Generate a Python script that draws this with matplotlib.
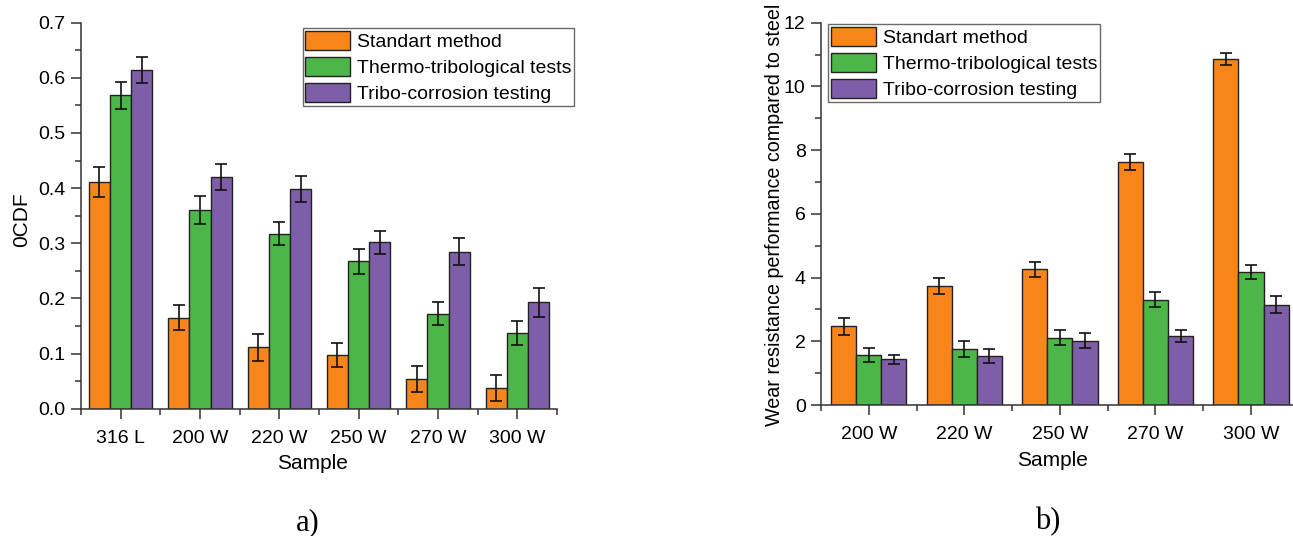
import numpy as np
import matplotlib.pyplot as plt
from matplotlib.patches import Patch
from matplotlib.ticker import MultipleLocator, FixedLocator

plt.rcParams['font.family'] = ['Liberation Sans', 'DejaVu Sans']

# panel a) data
samples_a = ["316 L", "200 W", "220 W", "250 W", "270 W", "300 W"]
std_a = [0.411, 0.165, 0.111, 0.097, 0.054, 0.038]
std_a_err = [0.027, 0.023, 0.025, 0.022, 0.024, 0.024]
thermo_a = [0.568, 0.360, 0.317, 0.267, 0.172, 0.137]
thermo_a_err = [0.024, 0.025, 0.021, 0.023, 0.021, 0.022]
tribo_a = [0.614, 0.420, 0.398, 0.302, 0.285, 0.193]
tribo_a_err = [0.023, 0.024, 0.024, 0.021, 0.025, 0.026]

# panel b) data
samples_b = ["200 W", "220 W", "250 W", "270 W", "300 W"]
std_b = [2.47, 3.74, 4.26, 7.63, 10.86]
std_b_err = [0.27, 0.26, 0.23, 0.26, 0.19]
thermo_b = [1.57, 1.77, 2.11, 3.31, 4.17]
thermo_b_err = [0.21, 0.25, 0.23, 0.24, 0.21]
tribo_b = [1.44, 1.54, 2.02, 2.16, 3.15]
tribo_b_err = [0.14, 0.23, 0.24, 0.18, 0.26]

labels = ["Standart method", "Thermo-tribological tests", "Tribo-corrosion testing"]
colors = ["#F7851A", "#4CB648", "#7E5EA8"]
edge = "#222222"
W, H = 1293, 536


def draw_panel(ax, cats, series, errs, width):
    x = np.arange(len(cats))
    for i, (vals, err) in enumerate(zip(series, errs)):
        ax.bar(x + (i - 1) * width, vals, width, color=colors[i], edgecolor=edge,
               linewidth=1.0, yerr=err, capsize=4,
               error_kw=dict(ecolor="#111111", elinewidth=1.2, capthick=1.2), zorder=2)
    ax.spines['top'].set_visible(False)
    ax.spines['right'].set_visible(False)
    for s in ('left', 'bottom'):
        ax.spines[s].set_linewidth(1.1)
        ax.spines[s].set_color('#333333')
    ax.set_xticks(x)
    ax.set_xticklabels(cats, fontsize=14)
    ax.xaxis.set_minor_locator(FixedLocator(np.arange(len(cats) + 1) - 0.5))
    ax.tick_params(axis='both', which='major', direction='out', length=7, width=1.1,
                   color='#333333', labelsize=14)
    ax.tick_params(axis='both', which='minor', direction='out', length=4, width=1.1,
                   color='#333333')
    ax.tick_params(axis='x', which='major', pad=8)
    ax.tick_params(axis='y', which='major', pad=4)
    ax.set_xlabel("Sample", fontsize=15, va='center')


def add_legend(fig, x0, y0):
    handles = [Patch(facecolor=c, edgecolor=edge, linewidth=1.0) for c in colors]
    leg = fig.legend(handles, labels, loc='upper left',
                     bbox_to_anchor=(x0 / W, 1 - y0 / H), bbox_transform=fig.transFigure,
                     borderaxespad=0, fontsize=14, frameon=True, fancybox=False,
                     handlelength=2.3, handleheight=1.15, handletextpad=0.35,
                     labelspacing=0.3, borderpad=0.15)
    leg.get_frame().set_edgecolor('#444444')
    leg.get_frame().set_linewidth(1.0)


fig = plt.figure(figsize=(W / 100, H / 100), dpi=100)

# panel a
ax1 = fig.add_axes([81 / W, 1 - 408.7 / H, (557 - 81) / W, (408.7 - 22.7) / H])
draw_panel(ax1, samples_a, [std_a, thermo_a, tribo_a],
           [std_a_err, thermo_a_err, tribo_a_err], 0.267)
ax1.set_xlim(-0.5, 5.5)
ax1.set_ylim(0, 0.7)
ax1.yaxis.set_major_locator(MultipleLocator(0.1))
ax1.yaxis.set_minor_locator(MultipleLocator(0.05))
ax1.yaxis.set_major_formatter(plt.FormatStrFormatter('%.1f'))
ax1.set_ylabel("0CDF", fontsize=15, va='center')
ax1.yaxis.set_label_coords(-0.125, 0.49)
ax1.xaxis.set_label_coords(0.486, -0.141)

# panel b
ax2 = fig.add_axes([821 / W, 1 - 405 / H, (W - 821) / W, (405 - 22.7) / H])
draw_panel(ax2, samples_b, [std_b, thermo_b, tribo_b],
           [std_b_err, thermo_b_err, tribo_b_err], 0.263)
ax2.set_xlim(-0.5, 4.44)
ax2.set_ylim(0, 12)
ax2.yaxis.set_major_locator(MultipleLocator(2))
ax2.yaxis.set_minor_locator(MultipleLocator(1))
ax2.set_ylabel("Wear resistance performance compared to steel", fontsize=14.2, va='center')
ax2.yaxis.set_label_coords(-0.0975, 0.497)
ax2.xaxis.set_label_coords(0.490, -0.144)

add_legend(fig, 302.5, 28)
add_legend(fig, 828.5, 24)

fig.text(308 / W, 1 - 523 / H, "a)", fontsize=22, family='Liberation Serif',
         ha='center', va='center')
fig.text(1048 / W, 1 - 522 / H, "b)", fontsize=22, family='Liberation Serif',
         ha='center', va='center')

fig.savefig("out.png", dpi=100)
